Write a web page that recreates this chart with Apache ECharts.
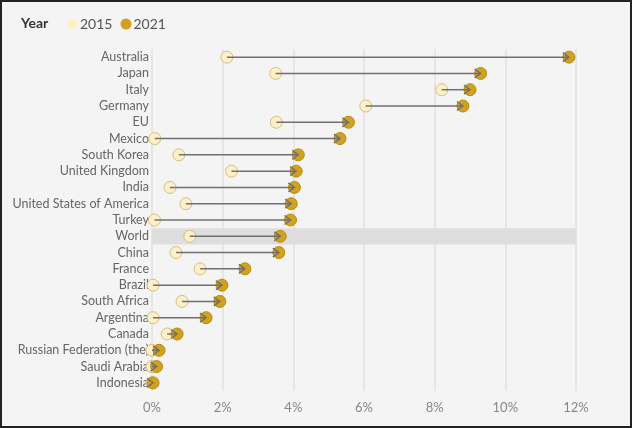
<!DOCTYPE html>
<html>
<head>
    <meta charset="UTF-8">
    <title>Year 2015 / 2021</title>
    <script type="text/javascript" src="https://cdn.jsdelivr.net/npm/echarts@6/dist/echarts.min.js"></script>
</head>
<body style="margin: 0; background: #fff">
<div id="container" style="width: 632px; height: 428px; box-sizing: border-box; border: 2px solid #222; background: #f4f4f4"></div>
<script type="text/javascript">
    const countries = ['Australia', 'Japan', 'Italy', 'Germany', 'EU', 'Mexico', 'South Korea',
        'United Kingdom', 'India', 'United States of America', 'Turkey', 'World', 'China', 'France',
        'Brazil', 'South Africa', 'Argentina', 'Canada', 'Russian Federation (the)', 'Saudi Arabia', 'Indonesia'];
    const values2015 = [2.12, 3.5, 8.2, 6.05, 3.52, 0.08, 0.76, 2.25, 0.51, 0.96, 0.07, 1.07, 0.68, 1.36,
        0.03, 0.85, 0.03, 0.43, 0.0, 0.0, 0.0];
    const values2021 = [11.8, 9.3, 9.0, 8.8, 5.56, 5.32, 4.14, 4.08, 4.03, 3.94, 3.92, 3.63, 3.59, 2.63,
        1.98, 1.92, 1.53, 0.71, 0.2, 0.13, 0.03];
    const highlight = 'World';
    const xTicks = [0, 2, 4, 6, 8, 10, 12];

    const fontFamily = 'Lato, "Open Sans", sans-serif';
    const lineColor = '#707070';

    const dom = document.getElementById("container");
    const myChart = echarts.init(dom);

    const arrows = countries.map((c, i) => [values2015[i], values2021[i], i]);

    const option = {
        backgroundColor: '#f4f4f4',
        textStyle: {fontFamily: fontFamily},
        title: {
            text: 'Year',
            left: 14,
            top: 9,
            textStyle: {fontFamily: fontFamily, fontSize: 14, fontWeight: 'bold', color: '#333'}
        },
        legend: {
            left: 60,
            top: 10,
            icon: 'circle',
            itemWidth: 11,
            itemHeight: 11,
            itemGap: 8,
            textStyle: {fontFamily: fontFamily, fontSize: 14, color: '#555', padding: [0, 0, 0, -3]},
            data: [
                {name: '2015', itemStyle: {borderWidth: 0}},
                {name: '2021', itemStyle: {borderWidth: 0}}
            ]
        },
        grid: {left: 150, right: 54, top: 47, bottom: 35, containLabel: false},
        xAxis: {
            type: 'value',
            min: xTicks[0],
            max: xTicks[xTicks.length - 1],
            interval: xTicks[1] - xTicks[0],
            axisLine: {show: false},
            axisTick: {show: false},
            axisLabel: {formatter: '{value}%', color: '#888', fontSize: 13, margin: 10},
            splitLine: {lineStyle: {color: '#e2e2e2', width: 1.5}}
        },
        yAxis: {
            type: 'category',
            data: countries,
            inverse: true,
            axisLine: {show: false},
            axisTick: {show: false},
            axisLabel: {color: '#666', fontSize: 12.5, margin: 3, interval: 0},
            splitLine: {show: false}
        },
        series: [{
            name: 'band',
            type: 'bar',
            silent: true,
            barWidth: '100%',
            itemStyle: {color: '#dedede'},
            z: 1,
            data: countries.map(c => c === highlight ? xTicks[xTicks.length - 1] : '-')
        }, {
            name: '2015',
            type: 'scatter',
            symbolSize: 12,
            itemStyle: {color: '#fcefc9', borderColor: '#d6bf7e', borderWidth: 1, opacity: 1},
            z: 3,
            data: values2015.map((v, i) => [v, i])
        }, {
            name: '2021',
            type: 'scatter',
            symbolSize: 12,
            itemStyle: {color: '#d3a21c', borderColor: '#b88b12', borderWidth: 1, opacity: 1},
            z: 3,
            data: values2021.map((v, i) => [v, i])
        }, {
            name: 'change',
            type: 'custom',
            silent: true,
            z: 4,
            encode: {x: [0, 1], y: 2},
            renderItem: function (params, api) {
                const a = api.coord([api.value(0), api.value(2)]);
                const b = api.coord([api.value(1), api.value(2)]);
                const dir = b[0] >= a[0] ? 1 : -1;
                const s = 6;
                return {
                    type: 'group',
                    children: [{
                        type: 'line',
                        shape: {x1: a[0], y1: a[1], x2: b[0], y2: b[1]},
                        style: {stroke: lineColor, lineWidth: 1.5}
                    }, {
                        type: 'polyline',
                        shape: {points: [[b[0] - dir * s, b[1] - 4.5], [b[0], b[1]], [b[0] - dir * s, b[1] + 4.5]]},
                        style: {stroke: lineColor, fill: null, lineWidth: 1.5}
                    }]
                };
            },
            data: arrows
        }]
    };

    myChart.setOption(option, true);
</script>
</body>
</html>
